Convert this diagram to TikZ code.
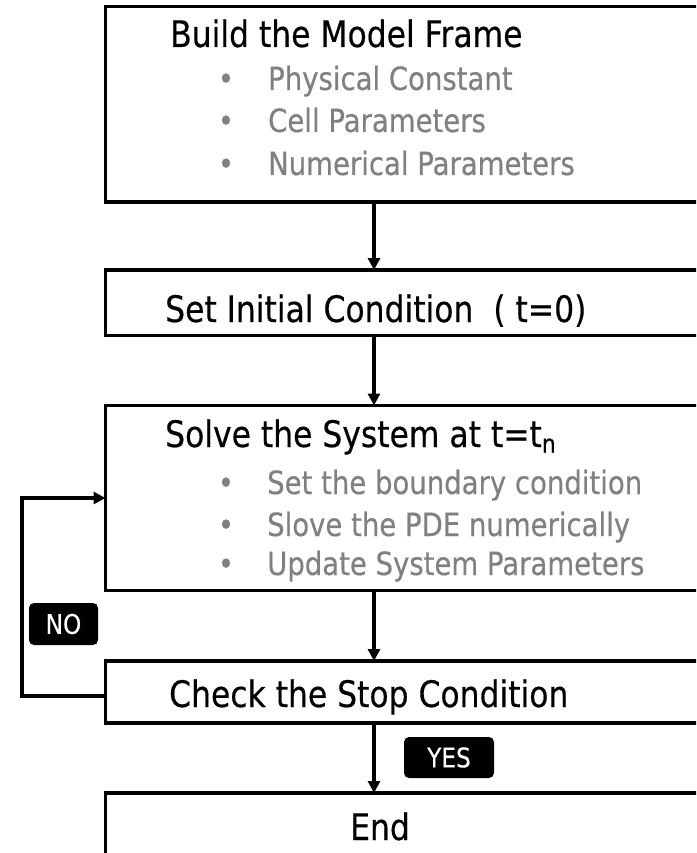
\documentclass[tikz,border=0pt]{standalone}
\usepackage{fontspec}
\setmainfont{DejaVu Sans}[FakeStretch=0.86,FakeBold=0.4]
\usetikzlibrary{arrows.meta,calc}
\definecolor{graytext}{RGB}{128,128,128}
\begin{document}
\begin{tikzpicture}[x=1pt,y=-1pt,
  box/.style={draw, line width=3.6pt, outer sep=0pt, inner sep=0pt, anchor=north west, minimum width=620pt},
  head/.style={anchor=base west, inner sep=0pt, font=\fontsize{36.5}{40}\selectfont},
  item/.style={anchor=base west, inner sep=0pt, text=graytext, font=\fontsize{32}{36}\selectfont},
  bul/.style={anchor=base, inner sep=0pt, text=graytext, font=\fontsize{32}{36}\selectfont},
  conn/.style={line width=3.2pt, -{Triangle[length=12pt,width=12pt]}},
  tag/.style={fill=black, text=white, rounded corners=5pt, inner sep=0pt, font=\fontsize{27}{30}\selectfont}
]
\useasboundingbox (0,0) rectangle (696,853);
\clip (0,0) rectangle (696,853);
% boxes
\node[box, minimum height=195.5pt] (b1) at (105.5,6.5) {};
\node[box, minimum height=65.5pt] (b2) at (105.5,270) {};
\node[box, minimum height=185pt] (b3) at (105.5,405.5) {};
\node[box, minimum height=62pt] (b4) at (105.5,661) {};
\node[box, minimum height=90pt] (b5) at (105.5,793) {};
% texts
\node[head] (t1) at (170,47) {Build the Model Frame};
\node[bul] (u11) at (226,90) {•};
\node[bul] (u12) at (226,132) {•};
\node[bul] (u13) at (226,175) {•};
\node[item] (i11) at (268,90) {Physical Constant};
\node[item] (i12) at (268,132) {Cell Parameters};
\node[item] (i13) at (268,175) {Numerical Parameters};
\node[head] (t2) at (165,322) {Set Initial Condition\ \ ( t=0)};
\node[head] (t3) at (165,447) {Solve the System at t=t\textsubscript{n}};
\node[bul] (u31) at (226,494) {•};
\node[bul] (u32) at (226,536) {•};
\node[bul] (u33) at (226,575) {•};
\node[item] (i31) at (267,494) {Set the boundary condition};
\node[item] (i32) at (267,536) {Slove the PDE numerically};
\node[item] (i33) at (267,575) {Update System Parameters};
\node[head] (t4) at (169,707) {Check the Stop Condition};
\node[head] (t5) at (350,840) {End};
% connectors
\coordinate (ax) at (374,0);
\coordinate (lp) at (22,600);
\draw[conn] (b1.south -| ax) -- (b2.north -| ax);
\draw[conn] (b2.south -| ax) -- (b3.north -| ax);
\draw[conn] (b3.south -| ax) -- (b4.north -| ax);
\draw[conn] (b4.south -| ax) -- (b5.north -| ax);
\draw[conn] ([yshift=-4pt]b4.west) -| (lp) |- (b3.west);
% tags
\node[tag, minimum width=69pt, minimum height=42pt] (no) at (63.5,624) {NO};
\node[tag, minimum width=90pt, minimum height=41pt] (yes) at (449,757.5) {YES};
\end{tikzpicture}
\end{document}
